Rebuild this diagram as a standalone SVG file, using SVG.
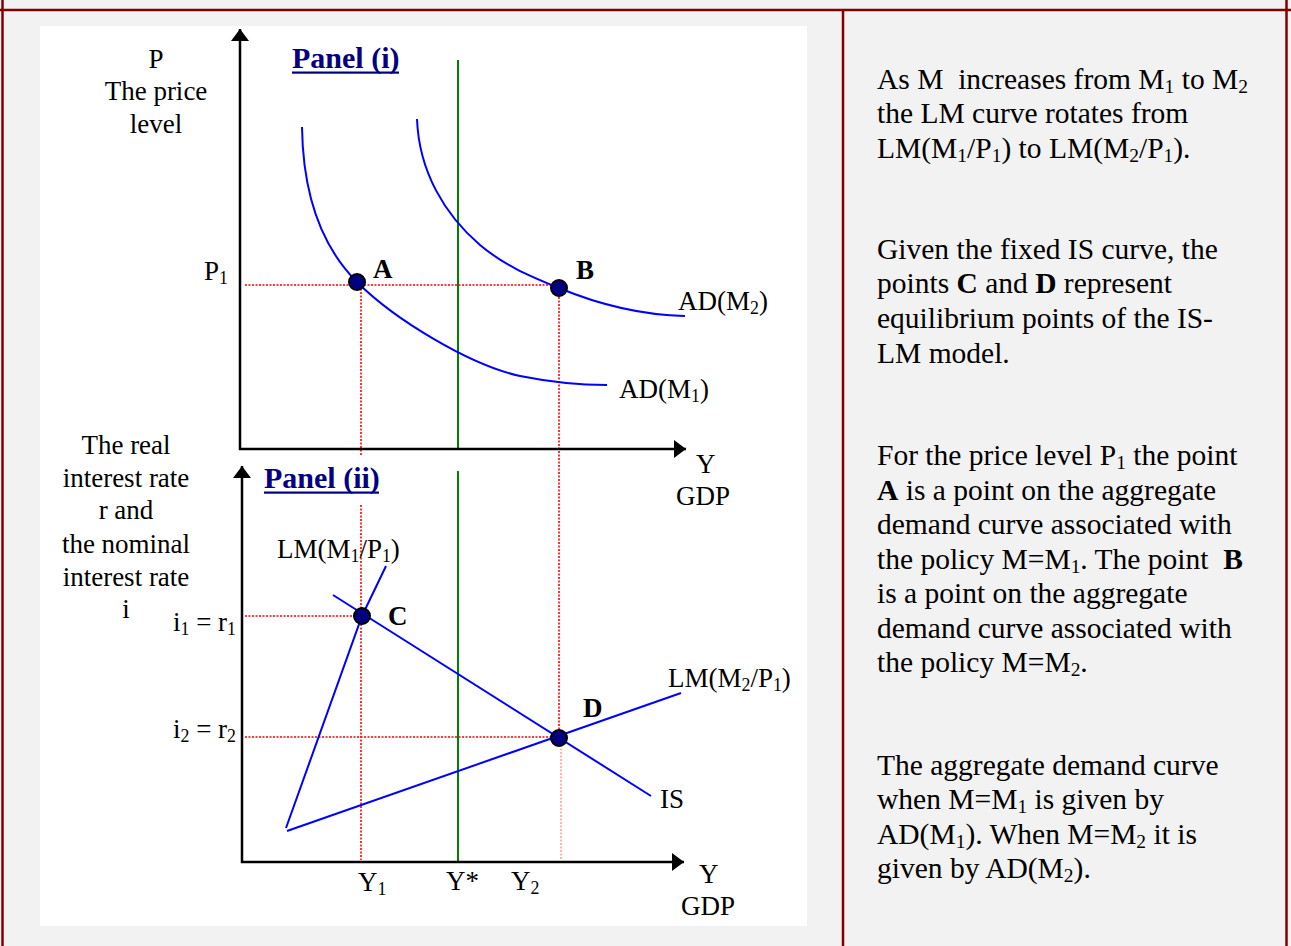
<svg xmlns="http://www.w3.org/2000/svg" width="1291" height="946" viewBox="0 0 1291 946">
<style>
.serif{font-family:"Liberation Serif","Times New Roman",serif;fill:#000}
.lbl{font-size:27px}
.txt{font-size:29.5px}
.ttl{font-size:30px;font-weight:bold;fill:#000080}
.pt{font-size:27px;font-weight:bold}
.sub{font-size:0.66em}
.b{font-weight:bold}
.axis{stroke:#000;stroke-width:2.5;fill:none}
.curve{stroke:#0000ff;stroke-width:2;fill:none}
.green{stroke:#008000;stroke-width:2}
.dot{stroke:#ff0000;stroke-width:1.6;stroke-dasharray:2 1.5;fill:none}
.dotl{stroke:#ff8080;stroke-width:1.2;stroke-dasharray:2 1.5;fill:none}
.pnt{fill:#000080;stroke:#000;stroke-width:2}
.border{stroke:#800000;stroke-width:2.5}
</style>
<defs>
<marker id="arr" viewBox="0 0 12 18" refX="12" refY="9" markerWidth="12" markerHeight="18" markerUnits="userSpaceOnUse" orient="auto-start-reverse">
<path d="M0,0 L12,9 L0,18 Z" fill="#000"/>
</marker>
</defs>
<rect x="0" y="0" width="1291" height="946" fill="#f2f2f2"/>
<g id="borders">
<line class="border" x1="0" y1="10" x2="1291" y2="10"/>
<line class="border" x1="2.5" y1="0" x2="2.5" y2="946"/>
<line class="border" x1="843" y1="10" x2="843" y2="946"/>
<line class="border" x1="1286.5" y1="0" x2="1286.5" y2="946"/>
</g>
<rect x="40" y="26" width="767" height="900" fill="#fff"/>

<g id="guides">
<line class="dot" x1="245" y1="285" x2="559" y2="285"/>
<line class="dot" x1="361" y1="285" x2="361" y2="456"/>
<line class="dot" x1="361" y1="505" x2="361" y2="860"/>
<line class="dot" x1="559" y1="290" x2="559" y2="738"/>
<line class="dotl" x1="561" y1="738" x2="561" y2="860"/>
<line class="dot" x1="245" y1="616" x2="362" y2="616"/>
<line class="dot" x1="245" y1="737" x2="559" y2="737"/>
<line class="green" x1="458" y1="60" x2="458" y2="449"/>
<line class="green" x1="458" y1="471" x2="458" y2="862"/>
</g>

<g id="axes">
<polyline class="axis" points="240,29 240,449 686,449" marker-start="url(#arr)" marker-end="url(#arr)"/>
<polyline class="axis" points="242,466 242,862 684,862" marker-start="url(#arr)" marker-end="url(#arr)"/>
</g>

<g id="connectors">
<path id="ad1" class="curve" d="M302,127 C303,200 325,250 357,282 C395,320 470,365 520,376 C555,383 585,385 607,385"/>
<path id="ad2" class="curve" d="M417,119 C419,172 445,215 480,245 C505,266 530,276 559,288 C600,305 640,315 685,316"/>
<polyline id="lm1" class="curve" points="386,566 362,616 286,828"/>
<line id="lm2" class="curve" x1="287" y1="831" x2="681" y2="693"/>
<line id="is" class="curve" x1="333" y1="595" x2="651" y2="796"/>
</g>

<g id="node-A"><circle class="pnt" cx="357" cy="282" r="8"/><text class="serif pt" x="373" y="278">A</text></g>
<g id="node-B"><circle class="pnt" cx="559" cy="288" r="8"/><text class="serif pt" x="576" y="279">B</text></g>
<g id="node-C"><circle class="pnt" cx="362" cy="616" r="8"/><text class="serif pt" x="388" y="625">C</text></g>
<g id="node-D"><circle class="pnt" cx="559" cy="738" r="8"/><text class="serif pt" x="583" y="717">D</text></g>

<g id="titles">
<text class="serif ttl" x="292" y="68">Panel (i)</text>
<rect x="292" y="71.5" width="107" height="2.2" fill="#000080"/>
<text class="serif ttl" x="264" y="488">Panel (ii)</text>
<rect x="264" y="491.5" width="115" height="2.2" fill="#000080"/>
</g>

<g id="labels" class="serif lbl">
<text x="156" y="68" text-anchor="middle">P</text>
<text x="156" y="100" text-anchor="middle">The price</text>
<text x="156" y="133" text-anchor="middle">level</text>
<text x="204" y="280">P<tspan class="sub" dy="4">1</tspan></text>
<text x="696" y="473">Y</text>
<text x="676" y="505">GDP</text>
<text x="678" y="310">AD(M<tspan class="sub" dy="4">2</tspan><tspan dy="-4">)</tspan></text>
<text x="619" y="398">AD(M<tspan class="sub" dy="4">1</tspan><tspan dy="-4">)</tspan></text>
<text x="126" y="454" text-anchor="middle">The real</text>
<text x="126" y="487" text-anchor="middle">interest rate</text>
<text x="126" y="519" text-anchor="middle">r and</text>
<text x="126" y="553" text-anchor="middle">the nominal</text>
<text x="126" y="586" text-anchor="middle">interest rate</text>
<text x="126" y="618" text-anchor="middle">i</text>
<text x="277" y="558">LM(M<tspan class="sub" dy="4">1</tspan><tspan dy="-4">/P</tspan><tspan class="sub" dy="4">1</tspan><tspan dy="-4">)</tspan></text>
<text x="668" y="687">LM(M<tspan class="sub" dy="4">2</tspan><tspan dy="-4">/P</tspan><tspan class="sub" dy="4">1</tspan><tspan dy="-4">)</tspan></text>
<text x="660" y="808">IS</text>
<text x="236" y="631" text-anchor="end">i<tspan class="sub" dy="4">1</tspan><tspan dy="-4"> = r</tspan><tspan class="sub" dy="4">1</tspan></text>
<text x="236" y="738" text-anchor="end">i<tspan class="sub" dy="4">2</tspan><tspan dy="-4"> = r</tspan><tspan class="sub" dy="4">2</tspan></text>
<text x="358" y="891">Y<tspan class="sub" dy="4">1</tspan></text>
<text x="446" y="890">Y*</text>
<text x="511" y="890">Y<tspan class="sub" dy="4">2</tspan></text>
<text x="699" y="883">Y</text>
<text x="681" y="915">GDP</text>
</g>

<g id="explanation" class="serif txt">
<text x="877" y="89" xml:space="preserve">As M  increases from M<tspan class="sub" dy="4">1</tspan><tspan dy="-4"> to M</tspan><tspan class="sub" dy="4">2</tspan></text>
<text x="877" y="123">the LM curve rotates from</text>
<text x="877" y="158">LM(M<tspan class="sub" dy="4">1</tspan><tspan dy="-4">/P</tspan><tspan class="sub" dy="4">1</tspan><tspan dy="-4">) to LM(M</tspan><tspan class="sub" dy="4">2</tspan><tspan dy="-4">/P</tspan><tspan class="sub" dy="4">1</tspan><tspan dy="-4">).</tspan></text>
<text x="877" y="259">Given the fixed IS curve, the</text>
<text x="877" y="293">points <tspan class="b">C</tspan> and <tspan class="b">D</tspan> represent</text>
<text x="877" y="328">equilibrium points of the IS-</text>
<text x="877" y="363">LM model.</text>
<text x="877" y="465">For the price level P<tspan class="sub" dy="4">1</tspan><tspan dy="-4"> the point</tspan></text>
<text x="877" y="500"><tspan class="b">A</tspan> is a point on the aggregate</text>
<text x="877" y="534">demand curve associated with</text>
<text x="877" y="569" xml:space="preserve">the policy M=M<tspan class="sub" dy="4">1</tspan><tspan dy="-4">. The point  </tspan><tspan class="b">B</tspan></text>
<text x="877" y="603">is a point on the aggregate</text>
<text x="877" y="638">demand curve associated with</text>
<text x="877" y="672">the policy M=M<tspan class="sub" dy="4">2</tspan><tspan dy="-4">.</tspan></text>
<text x="877" y="775">The aggregate demand curve</text>
<text x="877" y="809">when M=M<tspan class="sub" dy="4">1</tspan><tspan dy="-4"> is given by</tspan></text>
<text x="877" y="844">AD(M<tspan class="sub" dy="4">1</tspan><tspan dy="-4">). When M=M</tspan><tspan class="sub" dy="4">2</tspan><tspan dy="-4"> it is</tspan></text>
<text x="877" y="878">given by AD(M<tspan class="sub" dy="4">2</tspan><tspan dy="-4">).</tspan></text>
</g>
</svg>
